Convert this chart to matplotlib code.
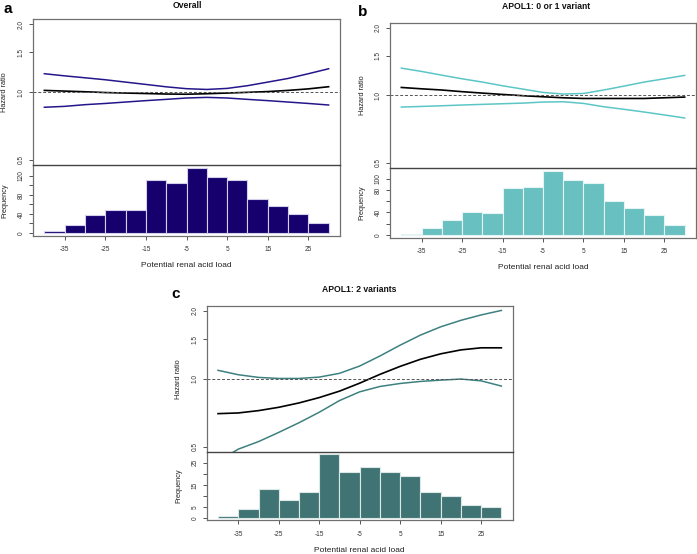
import matplotlib
matplotlib.use('Agg')
import matplotlib.pyplot as plt

plt.rcParams['font.family'] = ['Liberation Sans', 'DejaVu Sans']

# ---------------- data ----------------
bin_edges = [-40, -35, -30, -25, -20, -15, -10, -5, 0, 5, 10, 15, 20, 25, 30]
x_pts = [-40, -35, -30, -25, -20, -15, -10, -5, 0, 5, 10, 15, 20, 25, 30]
x_tick_vals = [-35, -25, -15, -5, 5, 15, 25]
hr_ticks = [0.5, 1.0, 1.5, 2.0]
hr_tick_labels = ['0.5', '1.0', '1.5', '2.0']

overall_counts = [3, 17, 38, 48, 49, 112, 106, 136, 118, 112, 71, 57, 40, 21]
apol01_counts = [2, 13, 26, 41, 39, 83, 86, 114, 98, 93, 61, 48, 35, 17]
apol2_counts = [1, 4, 13, 8, 12, 29, 21, 23, 21, 19, 12, 10, 6, 5]

overall_est = [1.017, 1.010, 1.003, 0.995, 0.990, 0.985, 0.980, 0.978, 0.983, 0.990, 0.997, 1.005, 1.017, 1.033, 1.056]
overall_up = [1.206, 1.180, 1.157, 1.134, 1.107, 1.081, 1.055, 1.035, 1.027, 1.038, 1.067, 1.107, 1.149, 1.206, 1.269]
overall_lo = [0.856, 0.864, 0.879, 0.890, 0.903, 0.916, 0.928, 0.941, 0.947, 0.941, 0.928, 0.916, 0.903, 0.890, 0.876]

apol01_est = [1.085, 1.070, 1.057, 1.039, 1.024, 1.010, 0.997, 0.986, 0.976, 0.969, 0.969, 0.969, 0.969, 0.976, 0.983]
apol01_up = [1.323, 1.279, 1.231, 1.186, 1.147, 1.104, 1.067, 1.031, 1.014, 1.020, 1.057, 1.100, 1.147, 1.186, 1.228]
apol01_lo = [0.887, 0.893, 0.899, 0.906, 0.912, 0.918, 0.924, 0.934, 0.937, 0.921, 0.890, 0.867, 0.843, 0.818, 0.793]

apol2_est = [0.700, 0.705, 0.722, 0.747, 0.781, 0.825, 0.881, 0.956, 1.046, 1.135, 1.220, 1.290, 1.343, 1.372, 1.372]
apol2_up = [1.090, 1.042, 1.014, 1.003, 1.003, 1.017, 1.057, 1.139, 1.262, 1.410, 1.562, 1.700, 1.817, 1.920, 2.010]
apol2_lo = [0.430, 0.487, 0.526, 0.578, 0.638, 0.710, 0.800, 0.875, 0.924, 0.953, 0.973, 0.986, 0.997, 0.979, 0.928]

W, H = 697, 554
fig = plt.figure(figsize=(W / 100, H / 100), dpi=100)

FRAME = '#707070'
SEP = '#444444'
TICKC = '#555555'
LABC = '#333333'


def fx(px):
    return px / W


def fy(py):
    return 1 - py / H


def style_common(ax):
    for s in ax.spines.values():
        s.set_color(FRAME)
        s.set_linewidth(0.9)
    ax.tick_params(colors=TICKC, labelcolor=LABC, length=3, width=0.7,
                   labelsize=4.7)


def panel(left, right, top, sep, bottom, counts, ylim_h, hticks, hlabels,
          est, up, lo, fill, edge, ci_col, title, title_xy, letter, letter_xy):
    xl = (-42.8, 32.8)
    # top hazard ratio axes
    ax = fig.add_axes([fx(left), fy(sep), fx(right) - fx(left), (sep - top) / H])
    style_common(ax)
    ax.set_yscale('log')
    ax.set_xlim(*xl)
    ax.set_ylim(0.473, 2.11)
    ax.plot(x_pts, up, color=ci_col, lw=1.1)
    ax.plot(x_pts, lo, color=ci_col, lw=1.1)
    ax.plot(x_pts, est, color='black', lw=1.2)
    ax.axhline(1.0, color='#555555', lw=0.7, ls=(0, (3, 2)))
    ax.set_yticks(hr_ticks)
    ax.set_yticklabels(hr_tick_labels)
    ax.minorticks_off()
    ax.set_xticks([])
    ax.spines['bottom'].set_visible(False)
    ax.tick_params(axis='y', labelrotation=90, pad=3)
    for t in ax.get_yticklabels():
        t.set_va('center')
    # histogram axes
    ah = fig.add_axes([fx(left), fy(bottom), fx(right) - fx(left), (bottom - sep) / H])
    style_common(ah)
    ah.bar(bin_edges[:-1], counts, width=5, align='edge', color=fill,
           edgecolor=edge, linewidth=0.8)
    ah.set_xlim(*xl)
    ah.set_ylim(*ylim_h)
    ah.spines['top'].set_color(SEP)
    ah.spines['top'].set_linewidth(1.0)
    ah.set_yticks(hticks)
    ah.set_yticklabels(hlabels)
    ah.set_xticks(x_tick_vals)
    ah.set_xticklabels([str(v) for v in x_tick_vals])
    ah.tick_params(axis='y', labelrotation=90, pad=3)
    ah.tick_params(axis='x', pad=4.5)
    for t in ah.get_yticklabels():
        t.set_va('center')
    # axis labels
    fig.text(fx(left - 28), fy((top + sep) / 2), 'Hazard ratio', rotation=90,
             ha='center', va='center', fontsize=5.3, color='#222222')
    fig.text(fx(left - 28), fy((sep + bottom) / 2), 'Frequency', rotation=90,
             ha='center', va='center', fontsize=5.3, color='#222222')
    fig.text(fx((left + right) / 2), fy(bottom + 30), 'Potential renal acid load',
             ha='center', va='center', fontsize=6.0, color='#222222')
    fig.text(fx(title_xy[0]), fy(title_xy[1]), title, ha='center', va='center',
             fontsize=6.2, fontweight='bold', color='#111111')
    fig.text(fx(letter_xy[0]), fy(letter_xy[1]), letter, ha='left',
             va='baseline', fontsize=11, fontweight='bold', color='black')


panel(33, 340, 19, 165.3, 235.7, overall_counts, (-6.0, 142.6),
      [0, 20, 40, 60, 80, 100, 120], ['0', '', '40', '', '80', '', '120'],
      overall_est, overall_up, overall_lo, '#15006e', '#d4d0ec', '#24168a',
      'Overall', (187, 5), 'a', (3, 13))

panel(390, 696, 22.7, 168.3, 237.7, apol01_counts, (-4.8, 118.5),
      [0, 20, 40, 60, 80, 100], ['0', '', '40', '', '80', '100'],
      apol01_est, apol01_up, apol01_lo, '#68c0c0', '#e4f4f4', '#5cc6c6',
      'APOL1: 0 or 1 variant', (546, 6.3), 'b', (358, 15.5))

panel(206.7, 512.7, 305.7, 452, 520.3, apol2_counts, (-1.0, 29.9),
      [0, 5, 10, 15, 20, 25], ['0', '5', '', '15', '', '25'],
      apol2_est, apol2_up, apol2_lo, '#407474', '#dce8e8', '#3e8080',
      'APOL1: 2 variants', (359, 289), 'c', (171.5, 298.3))

fig.savefig('out.png', dpi=100)
